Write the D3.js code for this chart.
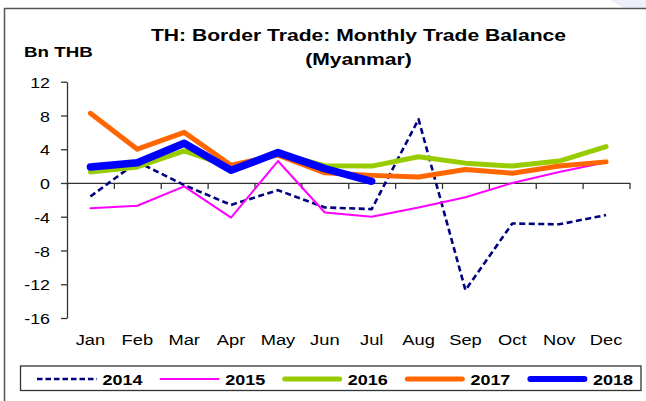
<!DOCTYPE html>
<html>
<head>
<meta charset="utf-8">
<script src="https://cdn.jsdelivr.net/npm/d3@7"></script>
<style>
  html, body { margin: 0; padding: 0; background: #fff; }
  svg { display: block; }
  text { font-family: "Liberation Sans", Arial, sans-serif; fill: #000; }
</style>
</head>
<body>
<svg id="chart" width="646" height="401"></svg>
<script>
// Monthly trade balance with Myanmar, billion THB
const months = ["Jan","Feb","Mar","Apr","May","Jun","Jul","Aug","Sep","Oct","Nov","Dec"];
const yTicks = [12, 8, 4, 0, -4, -8, -12, -16];
const seriesNames = ["2014","2015","2016","2017","2018"];
const values2014 = [-1.6, 2.5, -0.25, -2.6, -0.85, -2.9, -3.1, 7.55, -12.7, -4.8, -4.9, -3.8];
const values2015 = [-3.0, -2.7, -0.4, -4.1, 2.6, -3.5, -4.0, -2.9, -1.7, 0.0, 1.3, 2.45];
const values2016 = [1.3, 1.9, 3.8, 1.9, 3.5, 2.05, 2.0, 3.1, 2.35, 2.0, 2.6, 4.3];
const values2017 = [8.25, 4.0, 6.0, 2.1, 3.3, 1.2, 0.9, 0.7, 1.6, 1.15, 2.0, 2.5];
const values2018 = [1.9, 2.4, 4.7, 1.5, 3.6, 1.7, 0.2];

const series = [
  { name: seriesNames[0], values: values2014, color: "#000080", width: 2.6, dash: "6,3.5" },
  { name: seriesNames[1], values: values2015, color: "#ff00ff", width: 2,   dash: null },
  { name: seriesNames[2], values: values2016, color: "#99cc00", width: 5,   dash: null },
  { name: seriesNames[3], values: values2017, color: "#ff6600", width: 5,   dash: null },
  { name: seriesNames[4], values: values2018, color: "#0000ff", width: 7.5, dash: null }
];

const svg = d3.select("#chart");
const W = 646, H = 401;
const plot = { left: 67, right: 629.5, top: 81.7, bottom: 318 };

// faint decoration in the top-right corner and the outer frame
svg.append("polygon")
  .attr("points", `610,0 ${W},0 ${W},8 623,8`)
  .attr("fill", "#eceef8");
svg.append("rect")
  .attr("x", 4.5).attr("y", 8.5)
  .attr("width", W + 20).attr("height", H + 20)
  .attr("fill", "#fff")
  .attr("stroke", "#555").attr("stroke-width", 1.5);

// text helper: Excel-style wide glyphs via a horizontal stretch
function label(parent, str, x, y, opts) {
  const o = Object.assign({ size: 15.5, weight: "normal", anchor: "start", sx: 1.15 }, opts || {});
  return parent.append("text")
    .attr("transform", `translate(${x},${y}) scale(${o.sx},1)`)
    .attr("text-anchor", o.anchor)
    .style("font-size", o.size + "px")
    .style("font-weight", o.weight)
    .text(str);
}

// titles
label(svg, "TH: Border Trade: Monthly Trade Balance", 358.5, 40.7, { size: 16, weight: "bold", anchor: "middle", sx: 1.32 });
label(svg, "(Myanmar)", 358.5, 64.5, { size: 16, weight: "bold", anchor: "middle", sx: 1.32 });
label(svg, "Bn THB", 24, 56.7, { size: 15, weight: "bold", sx: 1.25 });

// scales
const x = d3.scaleBand().domain(months).range([plot.left, plot.right]).padding(0);
const xEdge = d3.scaleLinear().domain([0, months.length]).range([plot.left, plot.right]);
const y = d3.scaleLinear().domain([-16, 12]).range([plot.bottom, plot.top]);
const cx = m => x(m) + x.bandwidth() / 2;

const axisColor = "#333";

// y axis
const yAxis = svg.append("g")
  .attr("transform", `translate(${plot.left},0)`)
  .call(d3.axisLeft(y).tickValues(yTicks).tickSize(6).tickSizeOuter(0).tickFormat(d => String(d)));
yAxis.select(".domain").attr("stroke", axisColor).attr("stroke-width", 1.3);
yAxis.selectAll(".tick line").attr("stroke", axisColor).attr("stroke-width", 1.3);
yAxis.selectAll(".tick text")
  .attr("x", null).attr("dy", null)
  .attr("transform", "translate(-17,5.6) scale(1.15,1)")
  .attr("fill", "#000")
  .style("font-size", "15.5px")
  .style("font-family", "\"Liberation Sans\", Arial, sans-serif");

// x axis along zero, ticks at month boundaries
const xAxis = svg.append("g")
  .attr("transform", `translate(0,${y(0)})`)
  .call(d3.axisBottom(xEdge).tickValues(d3.range(months.length + 1)).tickSize(6).tickSizeOuter(0).tickFormat(""));
xAxis.select(".domain").attr("stroke", axisColor).attr("stroke-width", 1.3);
xAxis.selectAll(".tick line").attr("stroke", axisColor).attr("stroke-width", 1.3);

// month labels below the plot
const monthG = svg.append("g");
months.forEach(m => label(monthG, m, cx(m), 345, { size: 15.5, anchor: "middle", sx: 1.18 }));

// lines
const line = d3.line()
  .x((d, i) => cx(months[i]))
  .y(d => y(d));

svg.append("g").selectAll("path")
  .data(series)
  .join("path")
  .attr("d", s => line(s.values))
  .attr("fill", "none")
  .attr("stroke", s => s.color)
  .attr("stroke-width", s => s.width)
  .attr("stroke-dasharray", s => s.dash)
  .attr("stroke-linejoin", "round")
  .attr("stroke-linecap", s => s.dash ? "butt" : "round");

// legend
const legend = svg.append("g");
legend.append("rect")
  .attr("x", 20.5).attr("y", 366)
  .attr("width", 620.5).attr("height", 24.5)
  .attr("fill", "#fff")
  .attr("stroke", "#333").attr("stroke-width", 1.3);

const legendStart = 37, legendStep = 122.6, legendLineLen = 60, legendY = 379;
series.forEach((s, i) => {
  const x0 = legendStart + i * legendStep;
  const inset = s.dash ? 0 : Math.min(s.width, 6) / 2;
  legend.append("line")
    .attr("x1", x0 + inset).attr("x2", x0 + legendLineLen - inset)
    .attr("y1", legendY).attr("y2", legendY)
    .attr("stroke", s.color)
    .attr("stroke-width", Math.min(s.width, 6))
    .attr("stroke-dasharray", s.dash ? "5.5,3" : null)
    .attr("stroke-linecap", s.dash ? "butt" : "round");
  label(legend, s.name, x0 + 65.6, 384.5, { size: 15.5, weight: "bold", sx: 1.16 });
});
</script>
</body>
</html>
